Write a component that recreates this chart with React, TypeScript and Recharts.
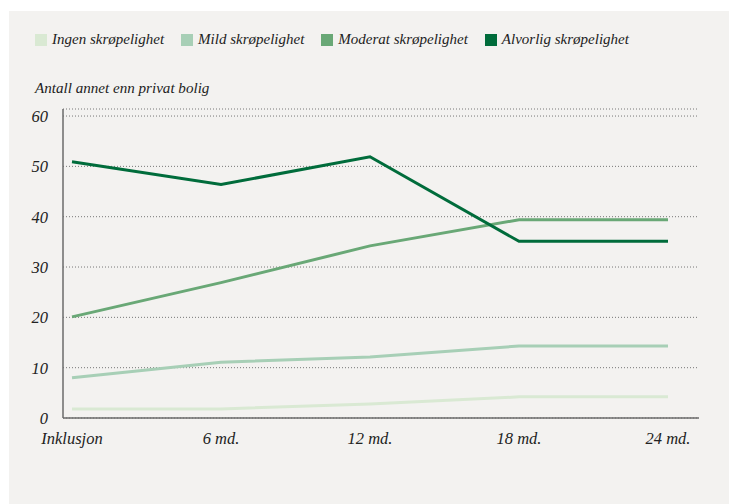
import React from 'react';
import {
  LineChart,
  Line,
  XAxis,
  YAxis,
  CartesianGrid
} from 'recharts';

const categories = ['Inklusjon', '6 md.', '12 md.', '18 md.', '24 md.'];
const ingen = [1.8, 1.8, 2.8, 4.2, 4.2];
const mild = [8, 11.1, 12.1, 14.3, 14.3];
const moderat = [20.1, 26.9, 34.2, 39.4, 39.4];
const alvorlig = [50.9, 46.4, 51.9, 35.1, 35.1];
const yTicks = [0, 10, 20, 30, 40, 50, 60];

const seriesList = [
  { key: 'ingen', name: 'Ingen skrøpelighet', color: '#d9e9d3', values: ingen },
  { key: 'mild', name: 'Mild skrøpelighet', color: '#a7cfb6', values: mild },
  { key: 'moderat', name: 'Moderat skrøpelighet', color: '#69a876', values: moderat },
  { key: 'alvorlig', name: 'Alvorlig skrøpelighet', color: '#006c3b', values: alvorlig }
];

const data = categories.map((cat, i) => {
  const row: Record<string, string | number> = { cat };
  seriesList.forEach(s => { row[s.key] = s.values[i]; });
  return row;
});

const font = '"Liberation Serif", serif';

function TopLegend() {
  return (
    <div style={{ position: 'absolute', left: 35, top: 31, display: 'flex', fontFamily: font, fontStyle: 'italic', fontSize: 15, color: '#222' }}>
      {seriesList.map(s => (
        <div key={s.key} style={{ display: 'flex', alignItems: 'center', marginRight: 17 }}>
          <span style={{ width: 12, height: 12, background: s.color, display: 'inline-block', marginRight: 5 }} />
          <span>{s.name}</span>
        </div>
      ))}
    </div>
  );
}

export default function App() {
  const tickStyle = { fontFamily: font, fontStyle: 'italic', fontSize: 16.5, fill: '#222' };
  return (
    <div style={{ position: 'absolute', left: 0, top: 0, width: 729, height: 504, background: '#fff' }}>
      <div style={{ position: 'absolute', left: 9, top: 11, right: 0, bottom: 0, background: '#f3f2f0' }} />
      <TopLegend />
      <div style={{ position: 'absolute', left: 35, top: 80, fontFamily: font, fontStyle: 'italic', fontSize: 15.1, color: '#222' }}>
        Antall annet enn privat bolig
      </div>
      <div style={{ position: 'absolute', left: 0, top: 0 }}>
        <LineChart width={729} height={504} data={data} margin={{ top: 109, right: 30, bottom: 56, left: 0 }}>
          <CartesianGrid vertical={false} stroke="#777" strokeDasharray="1 2" />
          <XAxis
            dataKey="cat"
            height={30}
            padding={{ left: 9, right: 31 }}
            tickLine={false}
            axisLine={{ stroke: '#6b6b6b', strokeWidth: 1.5 }}
            tick={tickStyle}
            tickMargin={8}
            interval={0}
          />
          <YAxis
            width={63}
            domain={[0, 61.4]}
            ticks={yTicks}
            allowDataOverflow
            tickLine={false}
            axisLine={{ stroke: '#6b6b6b', strokeWidth: 1.5 }}
            tick={tickStyle}
            tickMargin={9}
          />
          {seriesList.map(s => (
            <Line
              key={s.key}
              dataKey={s.key}
              name={s.name}
              stroke={s.color}
              strokeWidth={3}
              dot={false}
              type="linear"
              isAnimationActive={false}
            />
          ))}
        </LineChart>
      </div>
    </div>
  );
}
